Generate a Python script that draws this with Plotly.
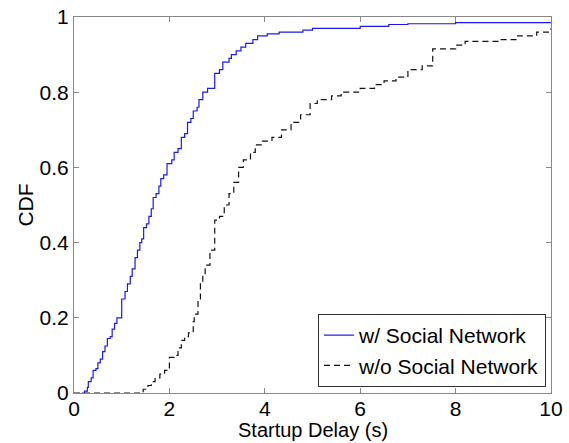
import plotly.graph_objects as go

# Step CDF points
with_sn_x = [0.16, 0.22, 0.28, 0.30, 0.36, 0.40, 0.46, 0.50, 0.55, 0.60, 0.65, 0.70, 0.76, 0.80, 0.85, 0.90,
             1.00, 1.07, 1.12, 1.18, 1.22, 1.28, 1.33, 1.38, 1.42, 1.46, 1.52, 1.57, 1.62, 1.66, 1.72, 1.78,
             1.82, 1.88, 1.95, 2.05, 2.10, 2.18, 2.25, 2.32, 2.38, 2.45, 2.50, 2.58, 2.62, 2.70, 2.80, 2.95,
             3.05, 3.12, 3.25, 3.30, 3.40, 3.50, 3.60, 3.75, 3.85, 4.05, 4.30, 4.80, 5.00, 6.00, 6.60, 7.00,
             8.00, 10.0]
with_sn_y = [0.000, 0.005, 0.015, 0.030, 0.040, 0.060, 0.065, 0.080, 0.090, 0.110, 0.125, 0.145, 0.150, 0.170, 0.185, 0.200,
             0.250, 0.270, 0.290, 0.310, 0.330, 0.360, 0.380, 0.400, 0.410, 0.440, 0.450, 0.470, 0.490, 0.520, 0.530, 0.550,
             0.570, 0.580, 0.610, 0.620, 0.640, 0.650, 0.680, 0.690, 0.720, 0.730, 0.750, 0.760, 0.780, 0.800, 0.810, 0.850,
             0.860, 0.880, 0.890, 0.900, 0.910, 0.920, 0.930, 0.940, 0.950, 0.955, 0.960, 0.965, 0.970, 0.975, 0.980, 0.982,
             0.985, 0.985]

without_sn_x = [0.0, 1.38, 1.45, 1.55, 1.62, 1.70, 1.80, 1.90, 2.00, 2.10, 2.18, 2.25, 2.32, 2.40, 2.50, 2.52,
                2.60, 2.65, 2.70, 2.75, 2.85, 2.95, 3.05, 3.15, 3.25, 3.35, 3.45, 3.55, 3.70, 3.80, 3.95, 4.15,
                4.35, 4.55, 4.75, 4.95, 5.10, 5.40, 5.60, 6.00, 6.30, 6.50, 6.75, 7.00, 7.30, 7.52, 8.00, 8.20,
                8.90, 9.30, 9.70, 10.0]
without_sn_y = [0.000, 0.000, 0.010, 0.020, 0.030, 0.040, 0.050, 0.060, 0.095, 0.100, 0.120, 0.140, 0.150, 0.160, 0.190, 0.210,
                0.250, 0.290, 0.310, 0.340, 0.380, 0.460, 0.470, 0.500, 0.530, 0.560, 0.600, 0.620, 0.640, 0.660, 0.670, 0.680,
                0.700, 0.720, 0.740, 0.770, 0.780, 0.790, 0.800, 0.810, 0.820, 0.830, 0.840, 0.860, 0.870, 0.915, 0.925, 0.935,
                0.940, 0.950, 0.960, 0.970]

x_ticks = [0, 2, 4, 6, 8, 10]
y_ticks = [0, 0.2, 0.4, 0.6, 0.8, 1]
y_tick_labels = ["0", "0.2", "0.4", "0.6", "0.8", "1"]

font = "Liberation Sans, Arial, Helvetica, sans-serif"
fs = 21

fig = go.Figure()
fig.add_trace(go.Scatter(x=with_sn_x, y=with_sn_y, mode="lines", line_shape="hv",
                         line=dict(color="#1a1aee", width=1.2), name="w/ Social Network"))
fig.add_trace(go.Scatter(x=without_sn_x, y=without_sn_y, mode="lines", line_shape="hv",
                         line=dict(color="#111111", width=1.2, dash="6px,4px"), name="w/o Social Network"))

axis_common = dict(showline=True, linecolor="#888888", linewidth=1, mirror="ticks",
                   ticks="inside", ticklen=5, tickcolor="#888888", showgrid=False, zeroline=False,
                   automargin=False,
                   tickfont=dict(family=font, size=fs, color="black"))

fig.update_layout(
    width=569, height=443,
    margin=dict(l=74, r=18, t=17, b=50, autoexpand=False),
    paper_bgcolor="white", plot_bgcolor="white",
    font=dict(family=font, size=fs, color="black"),
    xaxis=dict(range=[0, 10], tickvals=x_ticks, ticktext=[str(v) for v in x_ticks],
               ticklabelstandoff=-3, **axis_common),
    yaxis=dict(range=[0, 1], tickvals=y_ticks, ticktext=y_tick_labels,
               title=dict(text="CDF", font=dict(family=font, size=fs), standoff=0),
               **axis_common),
    legend=dict(x=0.9895, y=0.016, xanchor="right", yanchor="bottom",
                bordercolor="#333333", borderwidth=1, bgcolor="white",
                font=dict(family=font, size=fs), tracegroupgap=0, itemwidth=30),
    showlegend=True,
    annotations=[dict(text="Startup Delay (s)", xref="paper", yref="paper", x=0.5, y=-0.133,
                      xanchor="center", yanchor="bottom", showarrow=False,
                      font=dict(family=font, size=20, color="black"))],
)

fig.write_html("out.html")
